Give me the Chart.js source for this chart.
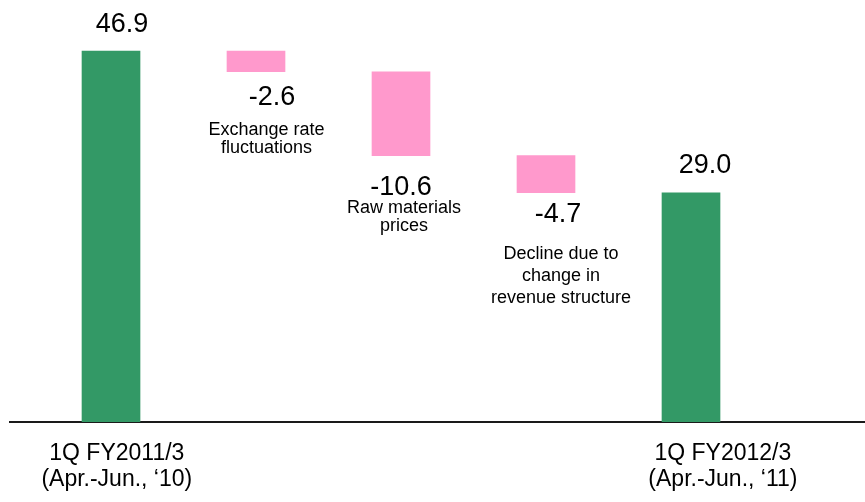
<!DOCTYPE html>
<html><head><meta charset="utf-8">
<script src="https://cdn.jsdelivr.net/npm/chart.js@4/dist/chart.umd.min.js"></script>
<style>html,body{margin:0;padding:0;background:#fff;}#wrap{width:865px;height:502px;}</style>
</head><body><div id="wrap"><canvas id="c" width="865" height="502"></canvas></div>
<script>
// ---- data ----
const categories = ['1Q FY2011/3', 'Exchange rate fluctuations', 'Raw materials prices', 'Decline due to change in revenue structure', '1Q FY2012/3'];
const values = [46.9, -2.6, -10.6, -4.7, 29.0];
const isTotal = [true, false, false, false, true];
const valueLabels = ['46.9', '-2.6', '-10.6', '-4.7', '29.0'];
const descriptions = [[], ['Exchange rate', 'fluctuations'], ['Raw materials', 'prices'], ['Decline due to', 'change in', 'revenue structure'], []];
const tickLabels = [['1Q FY2011/3', '(Apr.-Jun., \u201810)'], ['1Q FY2012/3', '(Apr.-Jun., \u201811)']];

// waterfall ranges built from the values
let running = 0;
const ranges = values.map((v, i) => {
  if (isTotal[i]) { running = v; return [0, v]; }
  const start = running; running = running + v;
  return [Math.min(start, running), Math.max(start, running)];
});

const FONT = "'Liberation Sans', Arial, Helvetica, sans-serif";
// label layout (pixel offsets relative to the bar)
const labelLayout = [
  {dx: 11, anchor: 'top', dy: -19},
  {dx: 16, anchor: 'bottom', dy: 33, ddx: 10.5, ddy: 63, lh: 18.4},
  {dx: 0, anchor: 'bottom', dy: 39, ddx: 3, ddy: 57, lh: 18.4},
  {dx: 12, anchor: 'bottom', dy: 29, ddx: 15, ddy: 66, lh: 22},
  {dx: 14, anchor: 'top', dy: -20}
];

const labelPlugin = {
  id: 'wfLabels',
  afterDatasetsDraw(chart) {
    const ctx = chart.ctx;
    const meta = chart.getDatasetMeta(0);
    ctx.save();
    ctx.fillStyle = '#000';
    ctx.textAlign = 'center';
    ctx.textBaseline = 'alphabetic';
    meta.data.forEach((el, i) => {
      const top = Math.min(el.y, el.base), bottom = Math.max(el.y, el.base);
      const L = labelLayout[i];
      const ref = L.anchor === 'top' ? top : bottom;
      ctx.font = '27px ' + FONT;
      ctx.fillText(valueLabels[i], el.x + L.dx, ref + L.dy);
      ctx.font = '18px ' + FONT;
      descriptions[i].forEach((line, j) => {
        ctx.fillText(line, el.x + L.ddx, bottom + L.ddy + j * L.lh);
      });
    });
    ctx.restore();
  }
};

new Chart(document.getElementById('c'), {
  type: 'bar',
  data: {
    labels: categories,
    datasets: [{
      data: ranges.map((r, i) => ({x: i, y: r})),
      backgroundColor: isTotal.map(t => t ? '#339966' : '#FF99CC'),
      borderWidth: 0,
      barThickness: 58
    }]
  },
  options: {
    responsive: false,
    animation: false,
    layout: {padding: {left: 10, right: 0, top: 0, bottom: -9}},
    plugins: {legend: {display: false}, tooltip: {enabled: false}},
    scales: {
      x: {
        type: 'linear', min: -0.6966, max: 5.2, offset: false,
        grid: {display: false, drawTicks: false},
        border: {display: true, color: '#1a1a1a', width: 2},
        afterBuildTicks: s => { s.ticks = [{value: 0.04}, {value: 4.22}]; },
        ticks: {
          autoSkip: false, maxRotation: 0, minRotation: 0, padding: 18, color: '#000',
          font: {family: FONT, size: 23, lineHeight: 1.15},
          callback: (v, i) => tickLabels[i]
        }
      },
      y: {display: false, min: 0, max: 53.37}
    }
  },
  plugins: [labelPlugin]
});
</script></body></html>
